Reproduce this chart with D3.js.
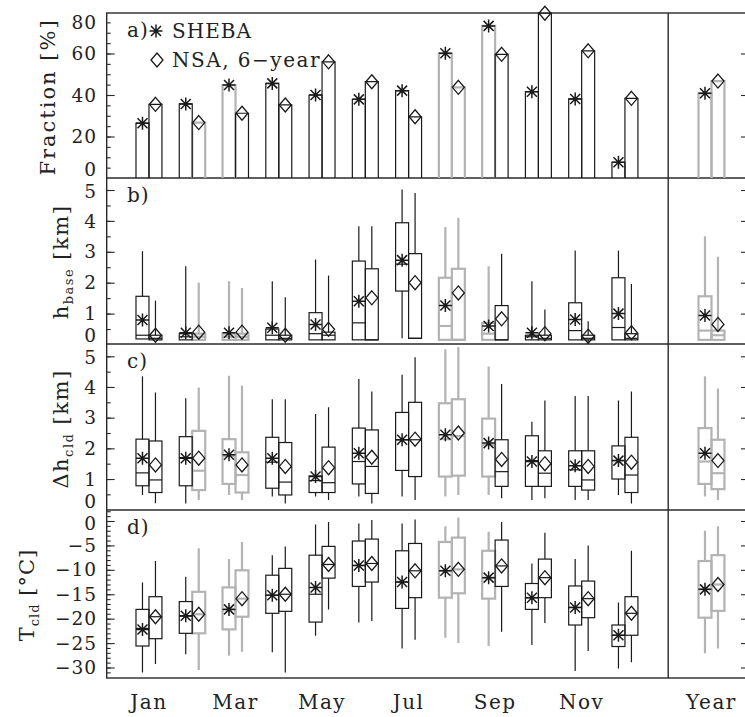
<!DOCTYPE html>
<html><head><meta charset="utf-8">
<script src="https://cdn.jsdelivr.net/npm/d3@7"></script>
<style>
body{margin:0;background:#fff}
svg{display:block}
text{font-family:"DejaVu Serif",serif;fill:#222;letter-spacing:1px}
</style>
</head><body>
<svg id="c" width="745" height="717"></svg>
<script>
// ---------------- data ----------------
const months = ["Jan","Feb","Mar","Apr","May","Jun","Jul","Aug","Sep","Oct","Nov","Dec","Year"];
const monthTickLabels = ["Jan","Mar","May","Jul","Sep","Nov","Year"];

// a) cloud fraction [%]
const shebaFraction = [26.4,35.7,44.8,45.6,40.0,37.9,42.1,60.1,73.3,41.6,38.1,7.6,40.8];
const nsaFraction   = [35.5,26.7,31.2,35.2,56.0,46.4,29.5,43.7,59.6,79.4,61.3,38.4,46.7];

// box statistics: [low whisker, q1, median, q3, high whisker, mean]
// b) cloud base height [km]
const shebaBase = [
 [0.18,0.18,0.30,1.56,3.02,0.79],[0.15,0.15,0.25,0.35,2.53,0.38],[0.15,0.15,0.25,0.35,2.05,0.38],
 [0.15,0.15,0.30,0.50,2.05,0.54],[0.15,0.15,0.35,1.03,2.75,0.65],[0.15,0.15,0.70,2.70,3.83,1.40],
 [0.20,1.73,2.60,3.94,5.02,2.73],[0.15,0.15,0.60,2.16,3.80,1.26],[0.15,0.15,0.35,0.70,2.53,0.60],
 [0.15,0.15,0.25,0.30,2.05,0.38],[0.15,0.15,0.45,1.35,3.04,0.81],[0.15,0.15,0.55,2.16,3.04,1.00],
 [0.15,0.15,0.45,1.56,3.50,0.94]];
const nsaBase = [
 [0.15,0.15,0.20,0.30,1.42,0.30],[0.15,0.15,0.25,0.35,2.00,0.40],[0.15,0.15,0.25,0.35,1.83,0.40],
 [0.15,0.15,0.20,0.30,1.53,0.30],[0.15,0.15,0.30,0.40,2.23,0.49],[0.15,0.15,0.15,2.45,3.83,1.51],
 [0.20,0.20,0.20,2.94,4.90,2.00],[0.15,0.15,0.15,2.45,4.10,1.67],[0.15,0.15,0.15,1.26,2.94,0.83],
 [0.15,0.15,0.20,0.30,1.13,0.35],[0.03,0.15,0.20,0.30,0.75,0.27],[0.15,0.15,0.20,0.35,1.96,0.38],
 [0.15,0.15,0.30,0.45,2.84,0.65]];

// c) cloud thickness [km]
const shebaThick = [
 [0.48,0.78,1.20,2.30,4.35,1.68],[0.20,0.78,1.70,2.38,3.63,1.68],[0.48,0.84,1.75,2.30,4.37,1.79],
 [0.43,0.70,1.55,2.36,3.60,1.68],[0.43,0.56,0.95,1.10,3.12,1.08],[0.43,0.84,1.57,2.66,4.26,1.84],
 [0.43,1.28,2.28,3.17,4.40,2.28],[0.43,1.08,2.30,3.47,5.23,2.44],[0.48,1.08,2.12,2.97,4.67,2.17],
 [0.32,0.76,1.60,2.41,2.87,1.57],[0.32,0.76,1.30,1.92,3.71,1.43],[0.48,1.00,1.60,2.08,3.56,1.60],
 [0.43,0.84,1.57,2.66,4.35,1.84]];
const nsaThick = [
 [0.21,0.56,0.97,2.24,3.82,1.46],[0.32,0.64,1.27,2.57,3.98,1.68],[0.32,0.56,1.13,1.87,4.04,1.46],
 [0.20,0.48,0.90,2.19,3.60,1.41],[0.32,0.56,0.88,2.04,3.34,1.37],[0.20,0.53,1.41,2.60,3.85,1.71],
 [0.32,1.08,2.28,3.50,4.97,2.30],[0.48,1.11,2.40,3.60,5.30,2.50],[0.37,0.76,1.24,2.28,4.10,1.64],
 [0.37,0.76,1.19,1.92,3.56,1.50],[0.32,0.64,0.97,1.92,3.71,1.41],[0.20,0.56,1.13,2.36,3.85,1.55],
 [0.32,0.67,1.19,2.28,3.95,1.60]];

// d) cloud temperature [deg C]
const shebaTemp = [
 [-31.0,-25.6,-22.0,-18.1,-12.6,-22.2],[-27.3,-23.0,-19.5,-16.5,-11.4,-19.4],[-27.6,-22.2,-18.0,-13.6,-7.8,-18.1],
 [-26.9,-18.9,-15.2,-11.1,-7.0,-15.2],[-23.5,-20.7,-15.0,-7.0,-0.7,-13.6],[-20.8,-13.4,-9.1,-4.1,-0.5,-9.1],
 [-26.1,-17.9,-12.5,-6.1,-0.5,-12.5],[-23.9,-15.7,-10.2,-4.3,-1.1,-10.2],[-25.6,-15.9,-11.6,-6.1,-2.2,-11.6],
 [-25.4,-18.1,-15.7,-12.8,-8.7,-15.7],[-30.7,-21.3,-17.7,-13.3,-7.8,-17.7],[-30.2,-25.7,-23.4,-21.3,-16.7,-23.4],
 [-27.1,-19.8,-14.0,-8.2,-2.0,-14.0]];
const nsaTemp = [
 [-29.3,-24.1,-19.6,-15.5,-8.2,-19.6],[-30.5,-23.0,-19.1,-14.5,-5.6,-19.1],[-26.8,-19.6,-15.9,-10.1,-4.3,-15.9],
 [-31.0,-18.5,-15.0,-9.7,-5.2,-15.0],[-18.1,-11.7,-8.9,-5.2,-0.2,-8.9],[-20.5,-12.5,-8.7,-3.7,0.2,-8.7],
 [-24.3,-15.7,-10.2,-4.6,0.3,-10.2],[-25.0,-14.8,-9.9,-3.4,0.7,-9.9],[-22.7,-13.4,-9.2,-3.9,-0.2,-9.2],
 [-20.9,-15.7,-11.6,-7.8,-2.4,-11.6],[-26.6,-19.8,-15.9,-12.3,-5.0,-15.9],[-28.9,-23.4,-18.9,-15.5,-6.1,-18.9],
 [-26.1,-18.4,-13.0,-7.0,-1.1,-13.0]];

// months drawn in grey (1) or black (0)
const shebaGrey  = [0,0,1,0,0,0,0,1,1,0,0,0,1];
const nsaGrey    = [0,1,1,0,0,0,0,1,0,0,0,0,1];
const nsaGreyA   = [0,1,0,0,0,0,0,1,0,0,0,0,1];

// ---------------- layout ----------------
const svg = d3.select("#c");
const x = d3.scaleLinear().domain([0, 15]).range([105.7, 754.75]);
const L = 106.7, R = 748, DIV = x(13);
const TOPS = [13, 178, 344, 510, 678];
const pos = i => (i < 12 ? i + 1 : 14);

const yA = d3.scaleLinear().domain([0, 80]).range([178, 12]);
const yB = d3.scaleLinear().domain([0, 5]).range([344.5, 190]);
const yC = d3.scaleLinear().domain([0, 5]).range([509.7, 356.3]);
const yD = d3.scaleLinear().domain([-30, 0]).range([667.5, 521]);

const panels = [
  {y: yA, top: TOPS[0], bottom: TOPS[1], major: d3.range(0, 81, 20), minor: d3.range(0, 81, 5), letter: "a)", padTop: 9},
  {y: yB, top: TOPS[1], bottom: TOPS[2], major: d3.range(0, 6, 1), minor: d3.range(0, 5.4, 0.5), letter: "b)", padTop: 13},
  {y: yC, top: TOPS[2], bottom: TOPS[3], major: d3.range(0, 6, 1), minor: d3.range(0, 5.4, 0.5), letter: "c)", padTop: 13},
  {y: yD, top: TOPS[3], bottom: TOPS[4], major: d3.range(-30, 1, 5), minor: d3.range(-32, 3, 1), letter: "d)", padTop: 13}
];

const FRAME = "#2a2a2a", BLACK = "#1a1a1a", GREY = "#b3b3b3";

// frames
const fg = svg.append("g").attr("fill", "none").attr("stroke", FRAME).attr("stroke-width", 1.4);
fg.append("rect").attr("x", L).attr("y", TOPS[0]).attr("width", R - L).attr("height", TOPS[4] - TOPS[0]);
[TOPS[1], TOPS[2], TOPS[3]].forEach(t => fg.append("line").attr("x1", L).attr("x2", R).attr("y1", t).attr("y2", t));
fg.append("line").attr("x1", DIV).attr("x2", DIV).attr("y1", TOPS[0]).attr("y2", TOPS[4]);

// axes
panels.forEach(p => {
  const minorTicks = p.minor.filter(v => p.y(v) > p.top + 1 && p.y(v) < p.bottom - 1);
  const majorTicks = p.major.filter(v => p.y(v) > p.top + 1 && p.y(v) < p.bottom - 1);
  svg.append("g").attr("transform", `translate(${L},0)`)
    .call(d3.axisLeft(p.y).tickValues(minorTicks).tickSize(-4).tickFormat(""))
    .call(g => g.select(".domain").remove())
    .call(g => g.selectAll("line").attr("stroke", FRAME).attr("stroke-width", 1.1));
  const ax = svg.append("g").attr("transform", `translate(${L},0)`)
    .call(d3.axisLeft(p.y).tickValues(majorTicks).tickSize(-8).tickPadding(10).tickFormat(d3.format("d")))
    .call(g => g.select(".domain").remove())
    .call(g => g.selectAll("line").attr("stroke", FRAME).attr("stroke-width", 1.1));
  ax.selectAll("text").remove();
  // labels for all majors (edge ones nudged inside the panel)
  const lab = svg.append("g");
  p.major.forEach(v => {
    let yy = p.y(v);
    if (yy < p.top + p.padTop) yy = p.top + p.padTop;
    if (yy > p.bottom - 9) yy = p.bottom - 9;
    lab.append("text").attr("x", 97).attr("y", yy).attr("dy", "0.36em")
      .attr("text-anchor", "end").style("font-size", "18.5px")
      .text(d3.format("d")(v).replace("-", "\u2212"));
  });
  svg.append("g").attr("transform", `translate(${R},0)`)
    .call(d3.axisRight(p.y).tickValues(majorTicks).tickSize(-7).tickFormat(""))
    .call(g => g.select(".domain").remove())
    .call(g => g.selectAll("line").attr("stroke", FRAME).attr("stroke-width", 1.1));
  svg.append("text").attr("x", 127).attr("y", p.top + 24).style("font-size", "20px").text(p.letter);
});

// layers
const gGrey = svg.append("g").attr("fill", "none").attr("stroke", GREY).attr("stroke-width", 2.2);
const gBlack = svg.append("g").attr("fill", "none").attr("stroke", BLACK).attr("stroke-width", 1.2);
const gSym = svg.append("g").attr("fill", "none").attr("stroke", BLACK).attr("stroke-width", 1.3);

function asterisk(g, cx, cy) {
  const r = 6.5, d = 5;
  g.append("path").attr("d",
    `M${cx - r},${cy}H${cx + r}M${cx},${cy - r}V${cy + r}M${cx - d},${cy - d}L${cx + d},${cy + d}M${cx - d},${cy + d}L${cx + d},${cy - d}`)
   .attr("stroke-width", 1.5);
}
function diamond(g, cx, cy) {
  g.append("path").attr("d", `M${cx},${cy - 7}L${cx + 6},${cy}L${cx},${cy + 7}L${cx - 6},${cy}Z`);
}

const series = [
  {off: -0.15, grey: shebaGrey, greyA: shebaGrey, sym: asterisk, frac: shebaFraction},
  {off: 0.15, grey: nsaGrey, greyA: nsaGreyA, sym: diamond, frac: nsaFraction}
];

// a) open bars
series.forEach(s => {
  s.frac.forEach((v, i) => {
    const m = pos(i);
    const x0 = x(m + s.off - 0.15), x1 = x(m + s.off + 0.15);
    const layer = s.greyA[i] ? gGrey : gBlack;
    layer.append("path").attr("d", `M${x0},${yA(0)}V${yA(v)}H${x1}V${yA(0)}`);
    s.sym(gSym, x(m + s.off), yA(v));
  });
});

// b)-d) box plots
const boxPanels = [
  {y: yB, data: [shebaBase, nsaBase]},
  {y: yC, data: [shebaThick, nsaThick]},
  {y: yD, data: [shebaTemp, nsaTemp]}
];
boxPanels.forEach(p => {
  series.forEach((s, k) => {
    p.data[k].forEach((st, i) => {
      const [wlo, q1, med, q3, whi, mean] = st;
      const m = pos(i);
      const xc = x(m + s.off), x0 = x(m + s.off - 0.15), x1 = x(m + s.off + 0.15);
      const layer = s.grey[i] ? gGrey : gBlack;
      layer.append("path").attr("d", `M${xc},${p.y(whi)}V${p.y(q3)}M${xc},${p.y(q1)}V${p.y(wlo)}`);
      layer.append("rect").attr("x", x0).attr("y", p.y(q3))
        .attr("width", x1 - x0).attr("height", Math.max(0.5, p.y(q1) - p.y(q3)));
      layer.append("line").attr("x1", x0).attr("x2", x1).attr("y1", p.y(med)).attr("y2", p.y(med));
      s.sym(gSym, xc, p.y(mean));
    });
  });
});

// legend
asterisk(gSym, 156, 31);
diamond(gSym, 157, 60);
svg.append("text").attr("x", 172).attr("y", 38).style("font-size", "20px").text("SHEBA");
svg.append("text").attr("x", 172).attr("y", 67).style("font-size", "20px").style("letter-spacing", "1.5px").text("NSA, 6\u2212year");

// month labels
monthTickLabels.forEach(lbl => {
  const i = months.indexOf(lbl);
  svg.append("text").attr("x", x(pos(i))).attr("y", 709).attr("text-anchor", "middle")
    .style("font-size", "20px").style("letter-spacing", "1.5px").text(lbl);
});

// axis titles
function vtitle(cx, cy, parts, spacing) {
  const t = svg.append("text").attr("transform", `translate(${cx},${cy}) rotate(-90)`)
    .attr("text-anchor", "middle").style("font-size", "21px").style("letter-spacing", spacing + "px");
  let lastSub = false;
  parts.forEach(([s, sub], j) => {
    const ts = t.append("tspan").text(s);
    if (sub) ts.style("font-size", "13px").attr("dy", 5);
    else if (j > 0 && lastSub) ts.attr("dy", -5);
    lastSub = sub;
  });
}
vtitle(55, 97, [["Fraction [%]", false]], 2);
vtitle(68, 262, [["h", false], ["base", true], [" [km]", false]], 1.5);
vtitle(68, 429, [["\u0394h", false], ["cld", true], [" [km]", false]], 1.5);
vtitle(34, 595, [["T", false], ["cld", true], [" [\u00B0C]", false]], 1);
</script>
</body></html>
